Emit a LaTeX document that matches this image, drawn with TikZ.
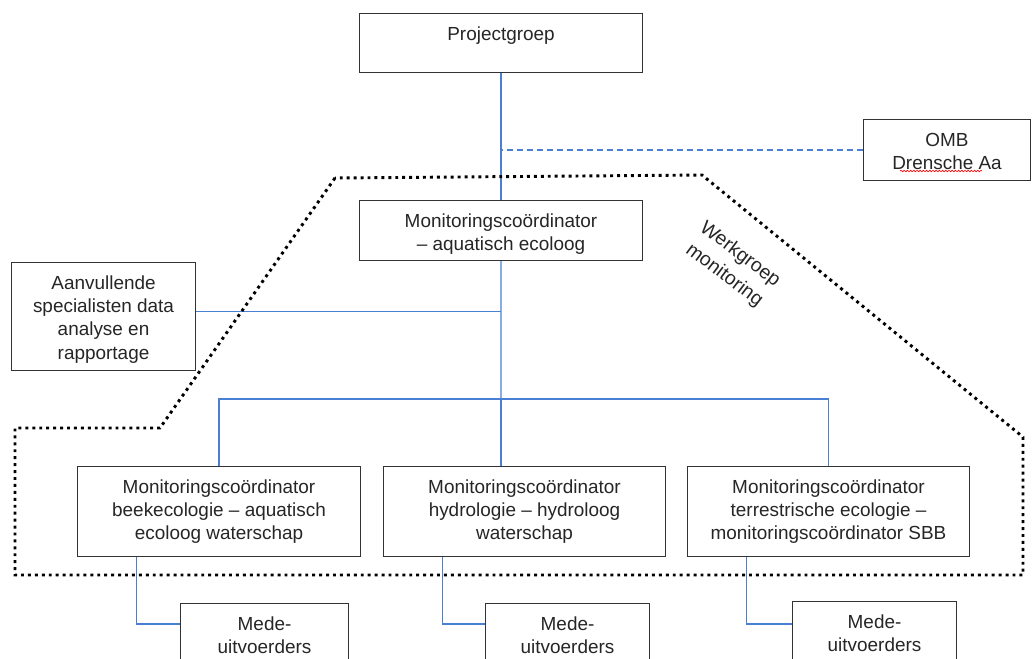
\documentclass[tikz,border=0pt]{standalone}
\usepackage{fontspec}
\setmainfont{Liberation Sans}
\usepackage{xcolor}
\usepackage{tikz}
\usetikzlibrary{positioning, calc, decorations.pathmorphing}

\definecolor{linkblue}{HTML}{4A80D4}
\definecolor{inkgray}{HTML}{262626}
\newcommand{\boxlines}[3]{\parbox[t][#2][t]{#1}{\centering\vspace*{8pt}\strut #3}}

\begin{document}
\begin{tikzpicture}[
    x=0.75pt, y=-0.75pt,
    orgbox/.style={draw=black!80, line width=0.8pt, fill=white, text=inkgray, inner sep=0pt, anchor=north west, font=\fontsize{14.2}{17.4}\selectfont},
    link/.style={draw=linkblue, line width=0.85pt},
    werkgroep/.style={draw=black, line width=2.2pt, dash pattern=on 2.2pt off 3pt}
]
    \path[use as bounding box, clip] (0,0) rectangle (1032,658);

    \node[orgbox] (pg) at (359,13) {\boxlines{212.25pt}{44.25pt}{Projectgroep}};
    \node[orgbox] (omb) at (863,119) {\boxlines{125.25pt}{45.75pt}{OMB\\Drensche Aa}};
    \node[orgbox] (mc) at (359,200) {\boxlines{212.25pt}{45pt}{Monitoringscoördinator\\– aquatisch ecoloog}};
    \node[orgbox] (av) at (11,262) {\boxlines{138pt}{81pt}{Aanvullende\\specialisten data\\analyse en\\rapportage}};

    \node[orgbox] (beek) at (77,466) {\boxlines{212.25pt}{67.5pt}{Monitoringscoördinator\\beekecologie – aquatisch\\ecoloog waterschap}};
    \node[orgbox] (hydro) at (383,466) {\boxlines{211.5pt}{67.5pt}{Monitoringscoördinator\\hydrologie – hydroloog\\waterschap}};
    \node[orgbox] (terr) at (687,466) {\boxlines{211.5pt}{67.5pt}{Monitoringscoördinator\\terrestrische ecologie –\\monitoringscoördinator SBB}};

    \node[orgbox] (mede1) at (180,603) {\boxlines{126pt}{52.5pt}{Mede-\\uitvoerders}};
    \node[orgbox] (mede2) at (485,603) {\boxlines{123pt}{52.5pt}{Mede-\\uitvoerders}};
    \node[orgbox] (mede3) at (792,601) {\boxlines{123pt}{52.5pt}{Mede-\\uitvoerders}};

    \draw[red, line width=0.5pt, decorate, decoration={snake, amplitude=0.55pt, segment length=2.4pt}] (900,171) -- (982,171);

    \coordinate (hub) at (501,399);
    \coordinate (avout) at ($(av.north east)!0.45!(av.south east)$);

    \draw[link] (pg) -- (mc);
    \draw[link, dash pattern=on 4.5pt off 3pt] (omb.west) -- (omb.west -| pg.south);
    \draw[link] (mc.south) -- (hub);
    \draw[link] (avout) -- (avout -| mc.south);
    \draw[link] (beek.north) |- (hub) -| (terr.north);
    \draw[link] (hub) -- (hub |- hydro.north);

    \draw[link] ($(beek.south west)!0.21!(beek.south east)$) |- ($(mede1.north west)+(0,21)$);
    \draw[link] ($(hydro.south west)!0.21!(hydro.south east)$) |- ($(mede2.north west)+(0,21)$);
    \draw[link] ($(terr.south west)!0.21!(terr.south east)$) |- ($(mede3.north west)+(0,23)$);

    \draw[werkgroep] (335,178) -- (160,428) -- (15,428) -- (15,575) -- (1023,575) -- (1023,437) -- (702,175) -- cycle;
    \node[rotate=-37, align=center, text=inkgray, font=\fontsize{14.6}{19.6}\selectfont] (wglabel) at (732,265) {Werkgroep\\monitoring};
\end{tikzpicture}
\end{document}
